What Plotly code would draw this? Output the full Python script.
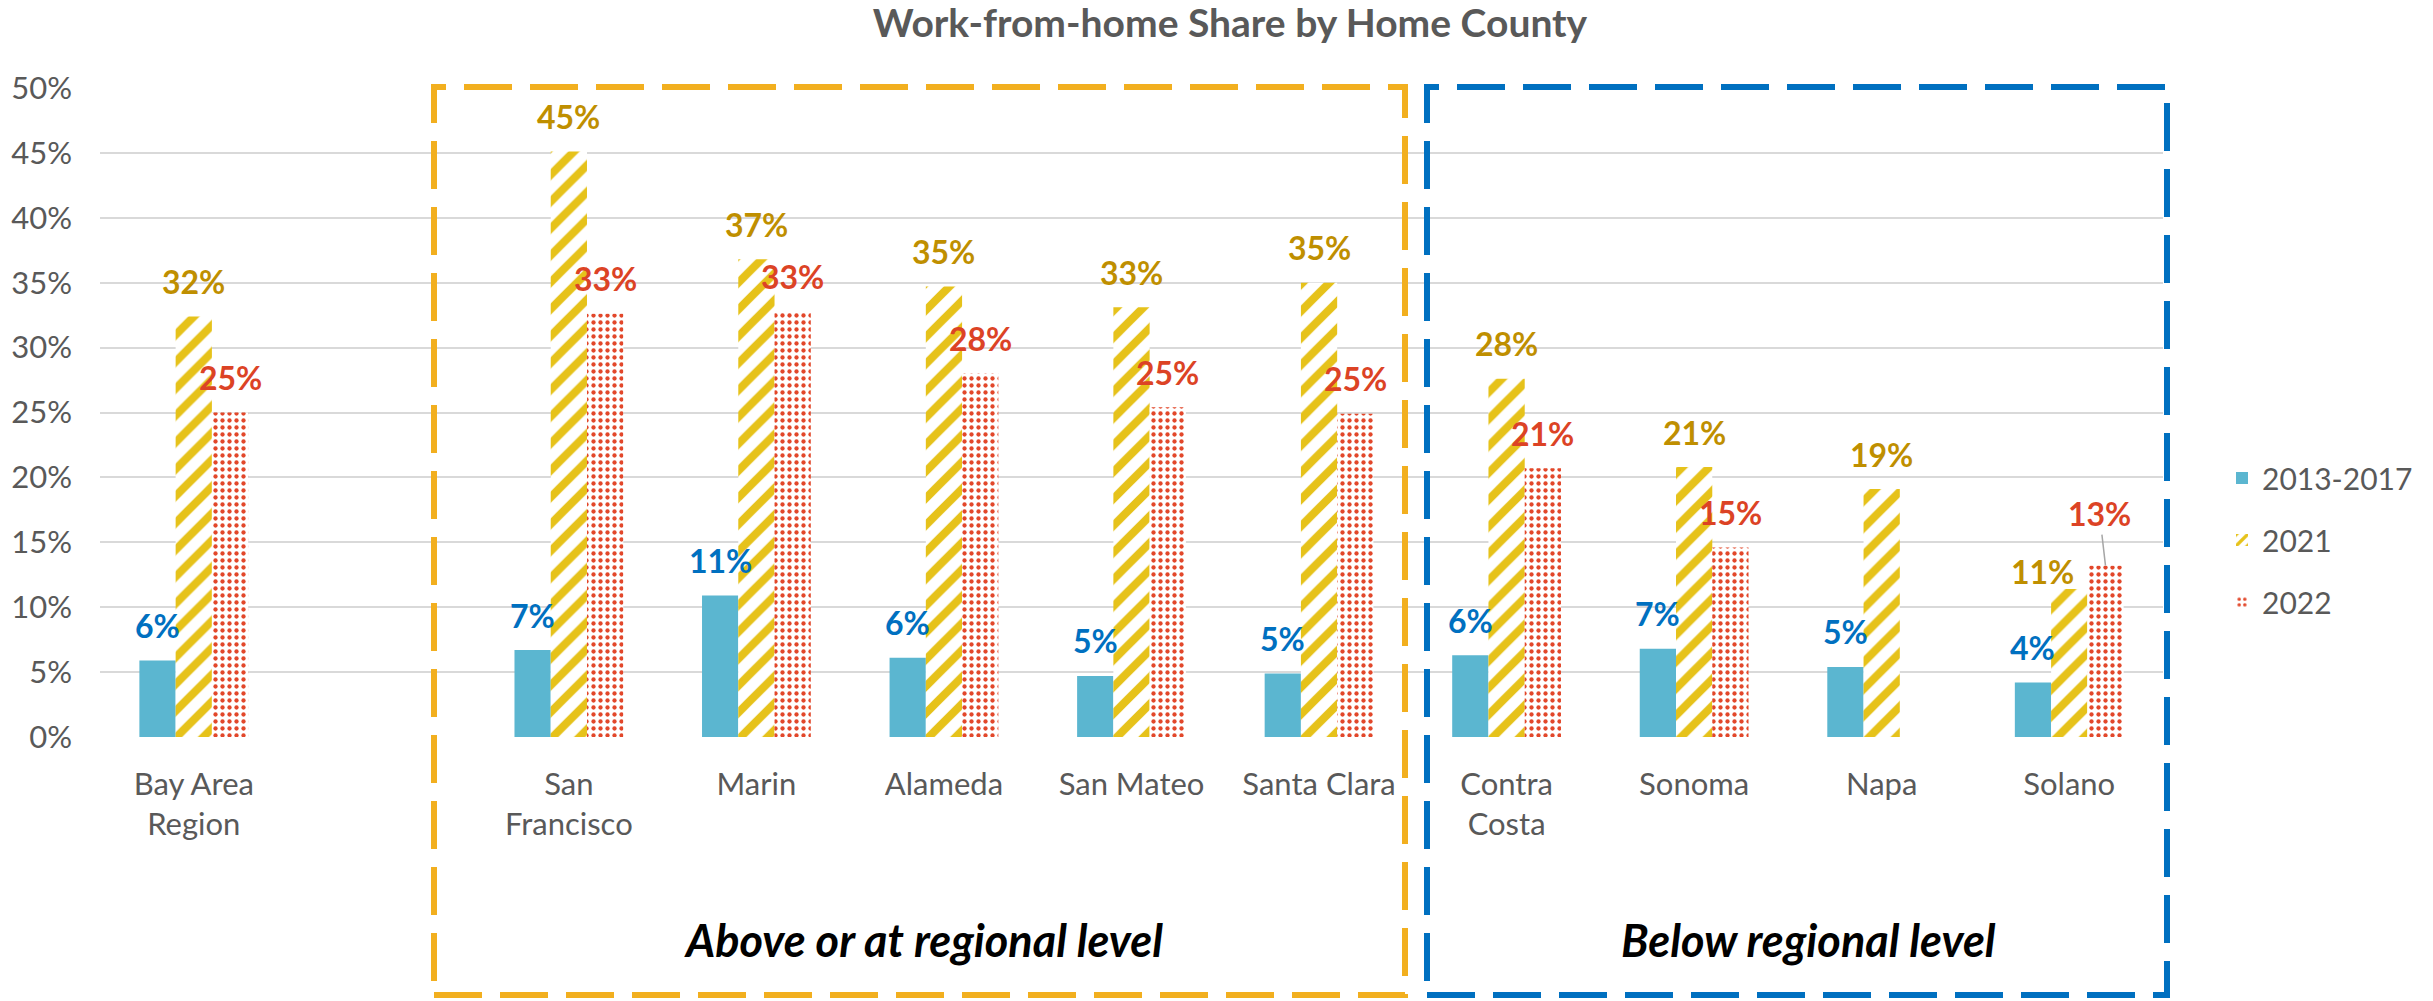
import plotly.graph_objects as go

# ---------------- data ----------------
categories = ["Bay Area<br>Region", "San<br>Francisco", "Marin", "Alameda", "San Mateo",
              "Santa Clara", "Contra<br>Costa", "Sonoma", "Napa", "Solano"]
series_names = ["2013-2017", "2021", "2022"]
wfh_2013_2017 = [5.9, 6.7, 10.9, 6.1, 4.7, 4.9, 6.3, 6.8, 5.4, 4.2]
wfh_2021 = [32.4, 45.1, 36.8, 34.7, 33.1, 35.0, 27.6, 20.8, 19.1, 11.4]
wfh_2022 = [25.0, 32.6, 32.8, 28.0, 25.4, 24.9, 20.7, 14.6, None, 13.2]
y_tick_values = [0, 5, 10, 15, 20, 25, 30, 35, 40, 45, 50]
title_text = "Work-from-home Share by Home County"
group_labels = ["Above or at regional level", "Below regional level"]

# axis slot order (one empty slot after the regional bar)
slot_order = [categories[0], None] + categories[1:]
positions = [slot_order.index(c) for c in categories]

FONT = "Lato, 'Open Sans', sans-serif"
GRAY = "#595959"
W, H = 2433, 1001
ML, MR, MT, MB = 100, 270, 88, 264
BARGAP = 0.42

bar_styles = [
    dict(color="#5BB6D0", pattern=None, label="#0070C0"),
    dict(color="white", pattern=dict(shape="/", fgcolor="#E6C21A", bgcolor="white",
                                     size=19, solidity=0.42, fillmode="replace"),
         label="#BF8F00"),
    dict(color="white", pattern=dict(shape=".", fgcolor="#E2472A", bgcolor="white",
                                     size=7, solidity=0.3, fillmode="replace"),
         label="#DC4325"),
]
series_values = [wfh_2013_2017, wfh_2021, wfh_2022]

fig = go.Figure()
for k, (name, vals, st) in enumerate(zip(series_names, series_values, bar_styles)):
    marker = dict(color=st["color"], line=dict(width=0))
    if st["pattern"]:
        marker["pattern"] = st["pattern"]
    fig.add_trace(go.Bar(
        x=positions, y=vals, name=name, marker=marker,
        legendgroup=name, hoverinfo="skip",
    ))

# data labels
barw = (1 - BARGAP) / 3
annotations = []
for k, (vals, st) in enumerate(zip(series_values, bar_styles)):
    for i, v in enumerate(vals):
        if v is None:
            continue
        xpos = positions[i] + (k - 1) * barw
        ann = dict(x=xpos, y=v, xref="x", yref="y", text=f"<b>{round(v)}%</b>",
                   showarrow=False, xanchor="center", yanchor="middle", yshift=35,
                   font=dict(family=FONT, size=32, color=st["label"]))
        if categories[i] == "Solano" and k == 1:
            ann.update(xshift=-27, yshift=18)
        if categories[i] == "Solano" and k == 2:
            ann.update(showarrow=True, arrowhead=0, arrowwidth=1.5, arrowcolor="#A6A6A6",
                       ax=-6, ay=-52, yshift=0, standoff=0)
        annotations.append(ann)

# group captions
def px_to_px(xp):
    return (xp - ML) / (W - ML - MR)

def py_to_py(yp):
    return (H - MB - yp) / (H - MT - MB)

for text, cx in zip(group_labels, [923, 1808]):
    annotations.append(dict(x=px_to_px(cx), y=py_to_py(940), xref="paper", yref="paper",
                            xanchor="center", yanchor="middle",
                            text=f"<b><i>{text}</i></b>", showarrow=False,
                            font=dict(family=FONT, size=45, color="black")))

boxes = [("#F2AF1F", 434, 1405), ("#0070C0", 1427, 2167)]
shapes = []
for col, x0, x1 in boxes:
    shapes.append(dict(type="rect", xref="paper", yref="paper",
                       x0=px_to_px(x0), x1=px_to_px(x1), y0=py_to_py(995), y1=py_to_py(87),
                       line=dict(color=col, width=6, dash="48px,18px"),
                       fillcolor="rgba(0,0,0,0)", layer="above"))

fig.update_layout(
    width=W, height=H,
    margin=dict(l=ML, r=MR, t=MT, b=MB),
    paper_bgcolor="white", plot_bgcolor="white",
    barmode="group", bargap=BARGAP, bargroupgap=0,
    title=dict(text=f"<b>{title_text}</b>", x=1230 / W, xanchor="center",
               y=1 - 23 / H, yanchor="middle", yref="container",
               font=dict(family=FONT, size=39, color=GRAY)),
    font=dict(family=FONT, size=30, color=GRAY),
    legend=dict(x=px_to_px(2222), y=py_to_py(540), xanchor="left", yanchor="middle",
                font=dict(family=FONT, size=30, color=GRAY), tracegroupgap=20,
                bgcolor="rgba(0,0,0,0)"),
    xaxis=dict(range=[-0.5, len(slot_order) - 0.5], tickmode="array",
               tickvals=positions, ticktext=categories, showgrid=False,
               zeroline=False, showline=False, ticks="", ticklabelstandoff=26,
               tickfont=dict(family=FONT, size=31, color=GRAY)),
    yaxis=dict(range=[0, 50], tickmode="array", tickvals=y_tick_values,
               ticktext=[f"{v}%" for v in y_tick_values], showgrid=True,
               gridcolor="#D9D9D9", gridwidth=2, zeroline=False, showline=False,
               ticks="", ticklabelstandoff=27,
               tickfont=dict(family=FONT, size=31, color=GRAY)),
    annotations=annotations, shapes=shapes,
)

fig.write_html("out.html", config={"displayModeBar": False},
               post_script="document.body.style.margin='0';")
